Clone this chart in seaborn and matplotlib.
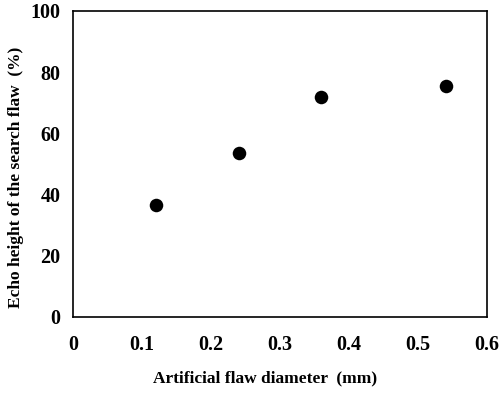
import matplotlib
matplotlib.use("Agg")
import matplotlib.pyplot as plt
import seaborn as sns
import pandas as pd

diameter = [0.12, 0.24, 0.36, 0.54]
echo_height = [36.5, 53.5, 72.0, 75.5]
x_ticks = [0, 0.1, 0.2, 0.3, 0.4, 0.5, 0.6]
x_labels = ["0", "0.1", "0.2", "0.3", "0.4", "0.5", "0.6"]
y_ticks = [0, 20, 40, 60, 80, 100]

sns.set_theme(style="white")
plt.rcParams['font.family'] = ['Liberation Serif', 'DejaVu Serif']
plt.rcParams['font.weight'] = 'bold'

df = pd.DataFrame({"d": diameter, "h": echo_height})

fig = plt.figure(figsize=(4.99, 3.96), dpi=100)
ax = fig.add_axes([73/499, 1 - 317/396, (487-73)/499, (317-11)/396])
sns.scatterplot(data=df, x="d", y="h", ax=ax, color="black", s=95,
                edgecolor="black", linewidth=0, zorder=3)
ax.set_xlim(0, 0.6)
ax.set_ylim(0, 100)
ax.set_xticks(x_ticks)
ax.set_xticklabels(x_labels)
ax.set_yticks(y_ticks)
for s in ax.spines.values():
    s.set_color("black")
    s.set_linewidth(1.2)
ax.tick_params(axis="both", direction="in", length=2, width=0.6, color="black",
               labelsize=14.5, labelcolor="black")
ax.tick_params(axis="x", pad=13)
ax.tick_params(axis="y", pad=9)
for lab in ax.get_xticklabels() + ax.get_yticklabels():
    lab.set_fontweight("bold")
ax.set_xlabel("Artificial flaw diameter  (mm)", fontsize=12.5, fontweight="bold",
              color="black")
ax.set_ylabel("Echo height of the search flaw  (%)", fontsize=12.5, fontweight="bold",
              color="black")
ax.xaxis.set_label_coords(0.464, -0.176)
ax.yaxis.set_label_coords(-0.118, 0.457)
fig.savefig("out.png", dpi=100, facecolor="white")
